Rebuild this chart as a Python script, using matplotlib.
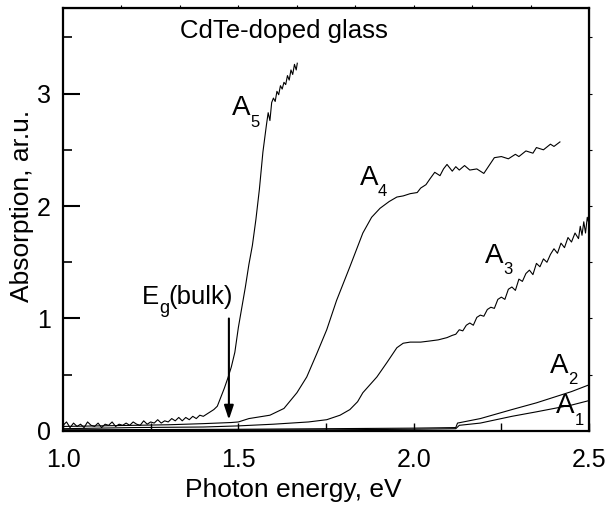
import numpy as np
import matplotlib
matplotlib.use("Agg")
import matplotlib.pyplot as plt

plt.rcParams['font.family'] = ['Liberation Sans', 'DejaVu Sans']

# A5 - sharp edge near 1.5 eV
a5_x = [1.00,1.01,1.02,1.03,1.04,1.05,1.06,1.07,1.08,1.09,
        1.10,1.11,1.12,1.13,1.14,1.15,1.16,1.17,1.18,1.19,
        1.20,1.21,1.22,1.23,1.24,1.25,1.26,1.27,1.28,1.29,
        1.30,1.31,1.32,1.33,1.34,1.35,1.36,1.37,1.38,1.39,
        1.40,1.41,1.42,1.43,1.44,1.45,1.46,1.47,1.48,1.49,
        1.50,1.51,1.52,1.53,1.54,1.55,1.56,1.57,1.58,1.585,
        1.59,1.595,1.60,1.605,1.61,1.615,1.62,1.625,1.63,1.635,
        1.64,1.645,1.65,1.655,1.66,1.665,1.668]
a5_y = [0.05,0.08,0.03,0.07,0.04,0.06,0.03,0.08,0.05,0.04,
        0.07,0.03,0.06,0.05,0.08,0.04,0.06,0.05,0.07,0.05,
        0.08,0.06,0.05,0.09,0.06,0.08,0.07,0.10,0.07,0.09,
        0.08,0.11,0.09,0.12,0.09,0.12,0.10,0.13,0.11,0.14,
        0.13,0.15,0.17,0.19,0.22,0.30,0.38,0.47,0.57,0.70,
        0.92,1.10,1.28,1.48,1.65,1.88,2.15,2.48,2.72,2.83,
        2.76,2.92,2.96,2.93,3.02,2.99,3.07,3.04,3.10,3.08,
        3.16,3.12,3.21,3.17,3.26,3.21,3.27]

# A4
a4_x = [1.00,1.10,1.20,1.30,1.40,1.48,1.50,1.53,1.59,1.63,
        1.667,1.695,1.724,1.752,1.78,1.818,1.855,1.88,1.904,1.93,
        1.952,1.97,1.99,2.01,2.02,2.035,2.046,2.06,2.075,2.085,
        2.095,2.11,2.12,2.13,2.145,2.16,2.18,2.20,2.215,2.23,
        2.25,2.27,2.29,2.30,2.32,2.34,2.35,2.37,2.39,2.40,2.417]
a4_y = [0.04,0.045,0.05,0.055,0.065,0.075,0.08,0.11,0.14,0.20,
        0.34,0.48,0.69,0.90,1.16,1.46,1.76,1.90,1.98,2.04,
        2.08,2.09,2.11,2.12,2.16,2.19,2.24,2.30,2.27,2.33,
        2.37,2.31,2.35,2.32,2.36,2.32,2.33,2.29,2.36,2.43,
        2.44,2.42,2.46,2.44,2.49,2.47,2.52,2.50,2.55,2.53,2.57]

# A3
a3_x = [1.00,1.20,1.40,1.50,1.60,1.70,1.752,1.79,1.818,1.84,
        1.855,1.875,1.895,1.924,1.952,1.97,1.99,2.02,2.046,2.07,
        2.095,2.11,2.12,2.13,2.14,2.15,2.16,2.17,2.18,2.19,
        2.20,2.21,2.22,2.23,2.24,2.25,2.26,2.27,2.28,2.29,
        2.30,2.31,2.32,2.33,2.34,2.35,2.36,2.37,2.38,2.39,
        2.40,2.41,2.42,2.43,2.44,2.45,2.46,2.47,2.475,2.48,
        2.485,2.49,2.495,2.50]
a3_y = [0.02,0.03,0.035,0.045,0.06,0.08,0.10,0.14,0.19,0.26,
        0.34,0.41,0.48,0.61,0.74,0.78,0.79,0.79,0.80,0.81,
        0.83,0.85,0.86,0.90,0.89,0.94,0.96,0.94,1.01,1.03,
        1.02,1.08,1.10,1.09,1.17,1.19,1.17,1.26,1.28,1.25,
        1.35,1.33,1.40,1.43,1.39,1.49,1.46,1.53,1.50,1.57,
        1.62,1.58,1.67,1.63,1.72,1.68,1.76,1.71,1.82,1.74,
        1.86,1.76,1.90,1.84]

# A2 and A1 - weakest samples
a2_x = [1.00,1.50,1.75,2.00,2.12,2.125,2.19,2.28,2.35,2.40,2.45,2.50]
a2_y = [0.01,0.015,0.02,0.025,0.03,0.07,0.11,0.19,0.25,0.30,0.35,0.41]
a1_x = [1.00,1.50,1.75,2.00,2.12,2.13,2.19,2.28,2.35,2.40,2.45,2.50]
a1_y = [0.005,0.01,0.01,0.015,0.02,0.05,0.07,0.13,0.17,0.20,0.23,0.27]

curves = [(a1_x, a1_y), (a2_x, a2_y), (a3_x, a3_y), (a4_x, a4_y), (a5_x, a5_y)]

# curve labels: (main letter, subscript, x, y)
labels = [('A', '5', 1.483, 2.87), ('A', '4', 1.847, 2.25), ('A', '3', 2.203, 1.556),
          ('A', '2', 2.389, 0.58), ('A', '1', 2.407, 0.22)]

fig = plt.figure(figsize=(6.06, 5.07), dpi=100)
ax = fig.add_axes([0.104, 0.150, 0.868, 0.834])

for cx, cy in curves:
    ax.plot(cx, cy, color='black', lw=0.8)

ax.set_xlim(1.0, 2.5)
ax.set_ylim(0, 3.76)

ax.set_xticks([1.0, 1.5, 2.0, 2.5])
ax.set_xticks([1.25, 1.75, 2.25], minor=True)
ax.set_xticklabels(['1.0', '1.5', '2.0', '2.5'])
ax.set_yticks([0, 1, 2, 3])
ax.set_yticks([0.5, 1.5, 2.5, 3.5], minor=True)

ax.tick_params(axis='x', which='major', direction='in', length=6, width=1, labelsize=18, pad=12)
ax.tick_params(axis='x', which='minor', direction='in', length=6, width=1)
ax.tick_params(axis='y', which='major', direction='in', length=12, width=1.5, labelsize=18, pad=9)
ax.tick_params(axis='y', which='minor', direction='in', length=6.5, width=1.2)

for s in ax.spines.values():
    s.set_linewidth(1.6)

# small outside ticks on top and right
top = ax.secondary_xaxis('top')
top.set_xticks([1 + k / 6 for k in range(1, 9)])
top.tick_params(direction='out', length=2, width=0.8, labeltop=False)
right = ax.secondary_yaxis('right')
right.set_yticks([0.5, 1.0, 1.5, 2.0, 2.5, 3.0, 3.5])
right.tick_params(direction='out', length=2, width=0.8, labelright=False)

ax.set_xlabel('Photon energy, eV', fontsize=19)
ax.xaxis.set_label_coords(0.438, -0.112)
ax.set_ylabel('Absorption, ar.u.', fontsize=19)
ax.yaxis.set_label_coords(-0.056, 0.532)

ax.text(1.335, 3.56, 'CdTe-doped glass', fontsize=18.5, va='center')

for main, sub, tx, ty in labels:
    ax.text(tx, ty, main, fontsize=20, va='center')
    ax.annotate(sub, xy=(tx, ty), xycoords='data', xytext=(13, -10),
                textcoords='offset points', fontsize=12, va='center')

ax.text(1.226, 1.19, 'E', fontsize=18.5, va='center')
ax.annotate('g', xy=(1.226, 1.19), xytext=(12, -8), textcoords='offset points',
            fontsize=13, va='center')
ax.annotate('(bulk)', xy=(1.226, 1.19), xytext=(18.5, 0), textcoords='offset points',
            fontsize=18.5, va='center')

ax.annotate('', xy=(1.473, 0.10), xytext=(1.473, 1.0),
            arrowprops=dict(arrowstyle='-|>,head_length=0.6,head_width=0.2', color='black', lw=1.5,
                            mutation_scale=14, shrinkA=0, shrinkB=0))

fig.savefig('out.png', dpi=100)
